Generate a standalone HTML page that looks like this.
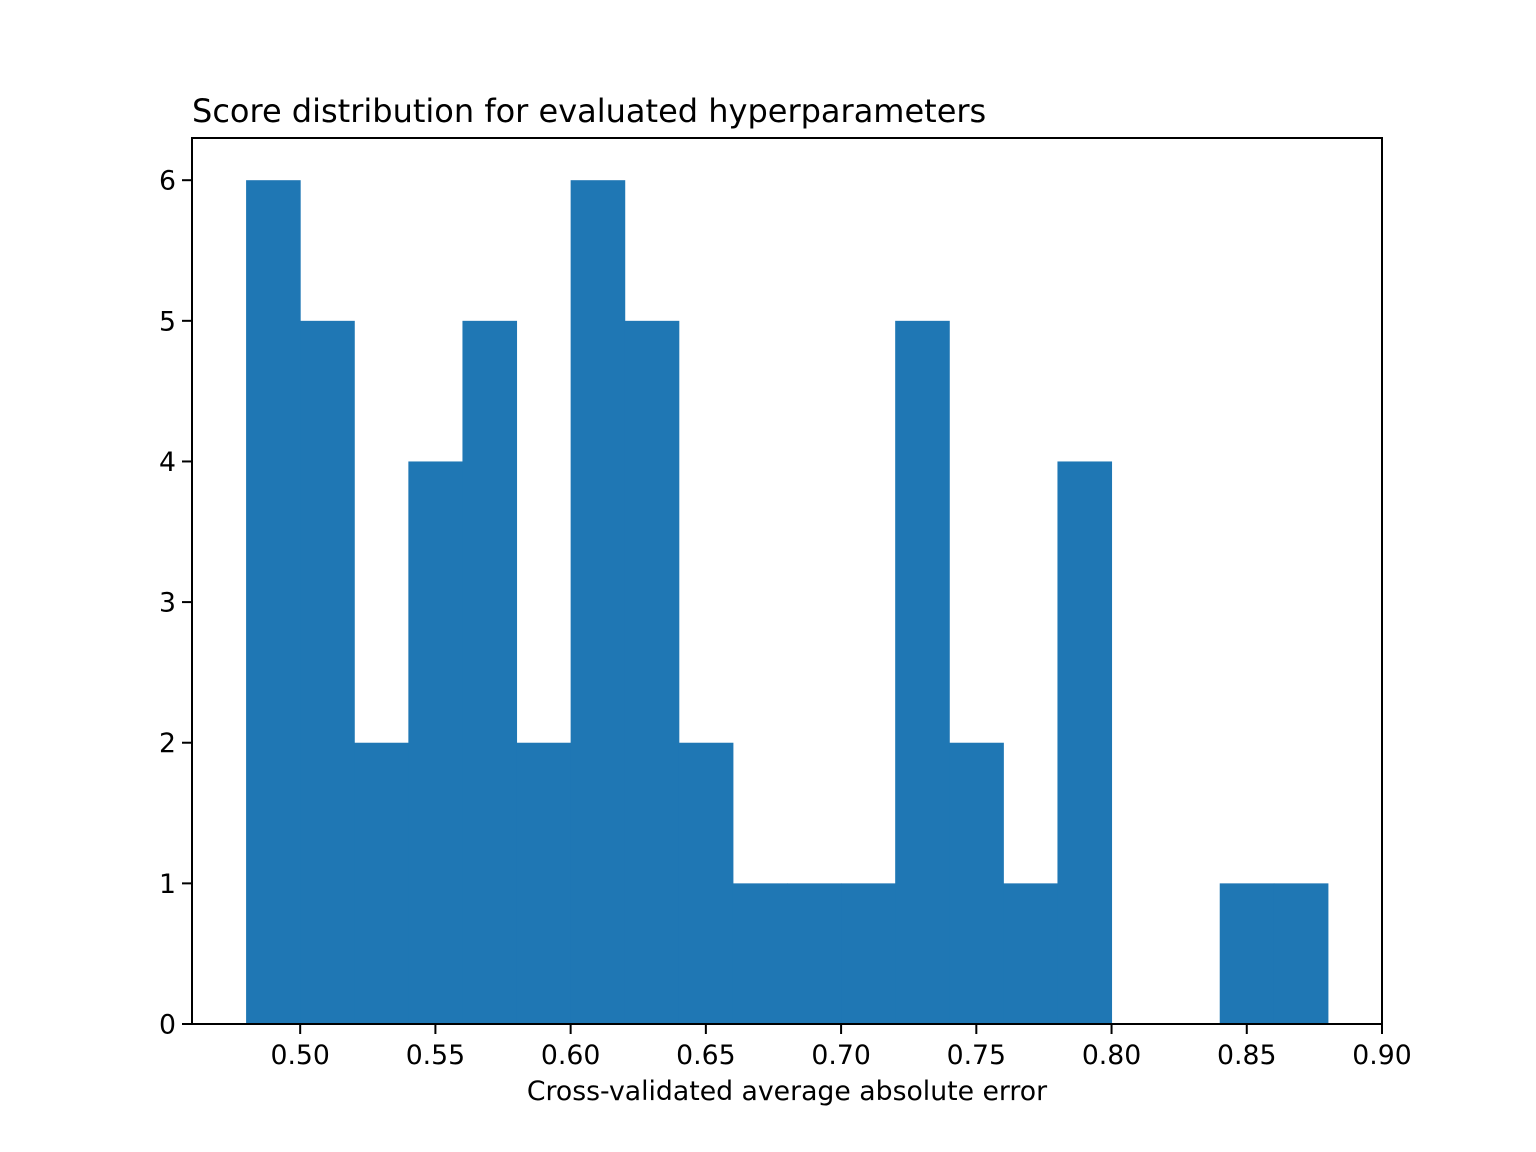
<!DOCTYPE html>
<html><head><meta charset="utf-8"><style>
html,body{margin:0;padding:0;background:#fff;}
svg{display:block;font-family:"DejaVu Sans","Liberation Sans",sans-serif;}
</style></head><body>
<svg id="chart" width="1536" height="1152" viewBox="0 0 1536 1152">
<rect width="1536" height="1152" fill="#fff"/>
<g id="bars"></g>
<g id="axes"></g>
<text x="192" y="122" font-size="32" fill="#000">Score distribution for evaluated hyperparameters</text>
<text x="787" y="1100" font-size="26.7" text-anchor="middle" fill="#000">Cross-validated average absolute error</text>
</svg>
<script>
const binStart = 0.48;
const binWidth = 0.02;
const counts = [6,5,2,4,5,2,6,5,2,1,1,1,5,2,1,4,0,0,1,1];
const xTicks = [0.50,0.55,0.60,0.65,0.70,0.75,0.80,0.85,0.90];
const xTickLabels = ["0.50","0.55","0.60","0.65","0.70","0.75","0.80","0.85","0.90"];
const yTicks = [0,1,2,3,4,5,6];
const yTickLabels = ["0","1","2","3","4","5","6"];

const L=192,R=1382,T=138,B=1024;
const xMin=0.46,xMax=0.90,yMin=0,yMax=6.3;
const sx=v=>L+(v-xMin)/(xMax-xMin)*(R-L);
const sy=v=>B-(v-yMin)/(yMax-yMin)*(B-T);
const NS="http://www.w3.org/2000/svg";
const bars=document.getElementById('bars');
counts.forEach((c,i)=>{
  if(c<=0) return;
  const x0=sx(binStart+i*binWidth), x1=sx(binStart+(i+1)*binWidth);
  const r=document.createElementNS(NS,'rect');
  r.setAttribute('x',x0);r.setAttribute('y',sy(c));
  r.setAttribute('width',x1-x0+0.5);r.setAttribute('height',sy(0)-sy(c));
  r.setAttribute('fill','#1f77b4');
  
  
  bars.appendChild(r);
});
const axes=document.getElementById('axes');
function line(x1,y1,x2,y2,name){
  const l=document.createElementNS(NS,'line');
  l.setAttribute('x1',x1);l.setAttribute('y1',y1);l.setAttribute('x2',x2);l.setAttribute('y2',y2);
  l.setAttribute('stroke','#000');l.setAttribute('stroke-width','2');l.setAttribute('stroke-linecap','square');
  
  
  axes.appendChild(l);
}
function text(x,y,s,anchor,name){
  const t=document.createElementNS(NS,'text');
  t.setAttribute('x',x);t.setAttribute('y',y);t.setAttribute('font-size','26.7');
  t.setAttribute('text-anchor',anchor);t.setAttribute('fill','#000');
  t.textContent=s;
  
  
  axes.appendChild(t);
}
xTicks.forEach((v,i)=>{const x=sx(v);line(x,B,x,B+9,'x-tick');text(x,1064,xTickLabels[i],'middle','x-tick-label');});
yTicks.forEach((v,i)=>{const y=sy(v);line(L-9,y,L,y,'y-tick');text(L-16,y+9.5,yTickLabels[i],'end','y-tick-label');});
line(L,T,R,T,'top-spine');line(L,B,R,B,'bottom-spine');line(L,T,L,B,'left-spine');line(R,T,R,B,'right-spine');
</script>
</body></html>
